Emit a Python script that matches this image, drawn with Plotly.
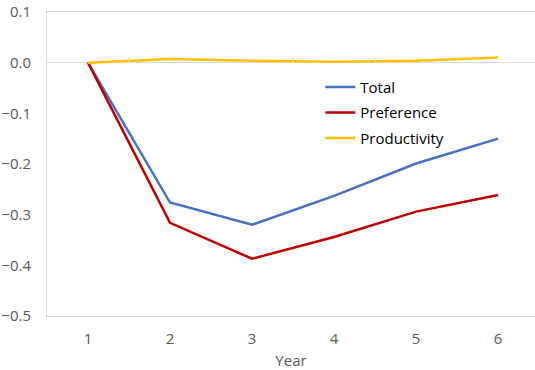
import plotly.graph_objects as go

years = [1, 2, 3, 4, 5, 6]
total = [0.0, -0.276, -0.320, -0.263, -0.199, -0.150]
preference = [0.0, -0.316, -0.387, -0.344, -0.294, -0.261]
productivity = [0.0, 0.007, 0.004, 0.002, 0.004, 0.010]

fig = go.Figure()
fig.add_trace(go.Scatter(x=years, y=total, name="Total", mode="lines", legendgroup="a",
                         line=dict(color="#4472C4", width=2.5)))
fig.add_trace(go.Scatter(x=years, y=preference, name="Preference", mode="lines", legendgroup="b",
                         line=dict(color="#C00000", width=2.5)))
fig.add_trace(go.Scatter(x=years, y=productivity, name="Productivity", mode="lines", legendgroup="c",
                         line=dict(color="#FFC000", width=2.5)))

# small tick marks on the zero line between categories
for b in [1.5, 2.5, 3.5, 4.5, 5.5]:
    fig.add_shape(type="line", x0=b, x1=b, y0=0, y1=0.01, xref="x", yref="y",
                  line=dict(color="#D9D9D9", width=1))

fig.update_layout(
    width=535, height=370,
    margin=dict(l=47, r=0, t=12, b=54, autoexpand=False),
    paper_bgcolor="white", plot_bgcolor="white",
    font=dict(family="Open Sans, Noto Sans, sans-serif", size=15, color="#595959"),
    xaxis=dict(range=[0.5, 6.45], tickvals=years, showgrid=False, zeroline=False,
               showline=True, mirror=True, linecolor="#D9D9D9", linewidth=1, automargin=False,
               ticks="", ticklabelstandoff=9,
               title=dict(text="Year", font=dict(size=15, color="#595959"), standoff=11),
               tickfont=dict(size=15, color="#595959")),
    yaxis=dict(range=[-0.5, 0.1], tickvals=[0.1, 0.0, -0.1, -0.2, -0.3, -0.4, -0.5],
               tickformat=".1f", showgrid=False, zeroline=True, zerolinecolor="#D9D9D9",
               zerolinewidth=1, showline=True, linecolor="#D9D9D9", linewidth=1, automargin=False,
               ticks="", ticklabelstandoff=12, tickfont=dict(size=15, color="#595959")),
    showlegend=True,
    legend=dict(x=0.56, y=0.807, xanchor="left", yanchor="top", bgcolor="rgba(0,0,0,0)",
                font=dict(size=15, color="#000000"), itemwidth=30,
                traceorder="grouped", tracegroupgap=3),
)
fig.write_html("out.html", post_script="document.body.style.margin='0';",
               config={"displayModeBar": False})
